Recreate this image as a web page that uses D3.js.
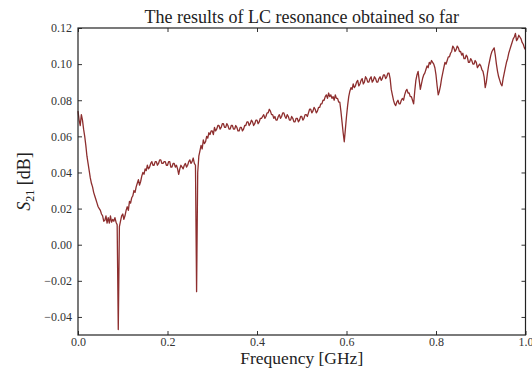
<!DOCTYPE html>
<html>
<head>
<meta charset="utf-8">
<script src="https://cdn.jsdelivr.net/npm/d3@7.9.0/dist/d3.min.js"></script>
<style>
  body { margin: 0; background: #fff; }
  svg { display: block; font-family: "Liberation Serif", "DejaVu Serif", serif; }
</style>
</head>
<body>
<svg id="chart" width="532" height="369"></svg>
<script>
// frequency samples (GHz), step 0.0025
const freqGHz = d3.range(0, 401).map(i => +(i * 0.0025).toFixed(4));

// S21 readings (dB), 10 per row = 0.025 GHz
const s21 = [
  0.074, 0.069, 0.066, 0.072, 0.069, 0.064, 0.060, 0.055, 0.049, 0.045,
  0.041, 0.037, 0.034, 0.032, 0.029, 0.027, 0.025, 0.023, 0.021, 0.020,
  0.019, 0.017, 0.016, 0.013, 0.0135, 0.016, 0.012, 0.015, 0.012, 0.016,
  0.0125, 0.014, 0.013, 0.015, 0.0125, 0.011, -0.047, 0.010, 0.013, 0.016,
  0.017, 0.014, 0.016, 0.019, 0.021, 0.019, 0.024, 0.023, 0.026, 0.027,
  0.030, 0.029, 0.032, 0.034, 0.036, 0.033, 0.035, 0.038, 0.040, 0.039,
  0.042, 0.041, 0.044, 0.042, 0.043, 0.045, 0.046, 0.044, 0.044, 0.046,
  0.046, 0.044, 0.045, 0.047, 0.047, 0.045, 0.045, 0.046, 0.046, 0.044,
  0.044, 0.046, 0.046, 0.043, 0.043, 0.045, 0.045, 0.043, 0.044, 0.042,
  0.039, 0.042, 0.044, 0.043, 0.042, 0.044, 0.045, 0.043, 0.044, 0.046,
  0.047, 0.045, 0.046, 0.048, 0.045, 0.044, -0.026, 0.040, 0.049, 0.052,
  0.055, 0.053, 0.058, 0.056, 0.057, 0.060, 0.059, 0.062, 0.061, 0.063,
  0.063, 0.061, 0.065, 0.063, 0.064, 0.066, 0.066, 0.064, 0.065, 0.067,
  0.067, 0.065, 0.065, 0.067, 0.066, 0.064, 0.064, 0.066, 0.066, 0.064,
  0.064, 0.066, 0.065, 0.063, 0.063, 0.065, 0.065, 0.063, 0.064, 0.066,
  0.066, 0.068, 0.068, 0.066, 0.067, 0.069, 0.068, 0.066, 0.067, 0.069,
  0.069, 0.067, 0.068, 0.070, 0.070, 0.071, 0.072, 0.070, 0.071, 0.073,
  0.073, 0.075, 0.074, 0.072, 0.072, 0.070, 0.071, 0.069, 0.069, 0.071,
  0.072, 0.070, 0.071, 0.073, 0.073, 0.071, 0.070, 0.072, 0.071, 0.069,
  0.069, 0.071, 0.070, 0.068, 0.068, 0.070, 0.070, 0.068, 0.069, 0.071,
  0.071, 0.069, 0.070, 0.072, 0.072, 0.071, 0.073, 0.075, 0.075, 0.073,
  0.074, 0.076, 0.075, 0.073, 0.074, 0.076, 0.076, 0.078, 0.078, 0.080,
  0.080, 0.082, 0.083, 0.081, 0.084, 0.082, 0.083, 0.081, 0.082, 0.080,
  0.083, 0.081, 0.081, 0.079, 0.079, 0.074, 0.068, 0.062, 0.057, 0.064,
  0.071, 0.077, 0.082, 0.085, 0.087, 0.086, 0.089, 0.087, 0.088, 0.090,
  0.091, 0.088, 0.089, 0.091, 0.092, 0.089, 0.090, 0.093, 0.092, 0.090,
  0.090, 0.092, 0.093, 0.090, 0.091, 0.093, 0.092, 0.090, 0.090, 0.092,
  0.093, 0.091, 0.092, 0.094, 0.094, 0.092, 0.093, 0.095, 0.095, 0.092,
  0.086, 0.083, 0.080, 0.078, 0.077, 0.079, 0.080, 0.078, 0.078, 0.080,
  0.081, 0.080, 0.083, 0.085, 0.086, 0.084, 0.084, 0.082, 0.082, 0.080,
  0.078, 0.085, 0.091, 0.094, 0.096, 0.091, 0.086, 0.089, 0.092, 0.094,
  0.095, 0.097, 0.099, 0.098, 0.101, 0.100, 0.102, 0.101, 0.100, 0.098,
  0.094, 0.088, 0.083, 0.085, 0.088, 0.092, 0.095, 0.098, 0.101, 0.100,
  0.102, 0.104, 0.104, 0.106, 0.107, 0.110, 0.109, 0.107, 0.108, 0.110,
  0.109, 0.107, 0.107, 0.105, 0.106, 0.103, 0.103, 0.105, 0.104, 0.101,
  0.101, 0.103, 0.102, 0.100, 0.100, 0.102, 0.101, 0.098, 0.099, 0.100,
  0.099, 0.097, 0.096, 0.093, 0.087, 0.090, 0.095, 0.099, 0.102, 0.105,
  0.107, 0.108, 0.109, 0.105, 0.100, 0.096, 0.093, 0.091, 0.089, 0.088,
  0.092, 0.095, 0.098, 0.101, 0.103, 0.106, 0.108, 0.110, 0.112, 0.114,
  0.115, 0.117, 0.113, 0.114, 0.116, 0.115, 0.114, 0.112, 0.111, 0.109,
  0.108
];

const xTicks = [0, 0.2, 0.4, 0.6, 0.8, 1.0];
const yTicks = [-0.04, -0.02, 0, 0.02, 0.04, 0.06, 0.08, 0.10, 0.12];

const margin = { top: 28, right: 6.5, bottom: 34, left: 78 };
const W = 532, H = 369;
const svg = d3.select('#chart');

const x = d3.scaleLinear().domain([0, 1]).range([margin.left, W - margin.right]);
const y = d3.scaleLinear().domain([-0.05, 0.12]).range([H - margin.bottom, margin.top]);

const fmt = d => d3.format('.2f')(d).replace('-', '\u2212');

// line
const line = d3.line()
  .x((d, i) => x(freqGHz[i]))
  .y(d => y(d));

svg.append('path')
  .datum(s21)
  .attr('fill', 'none')
  .attr('stroke', '#8d2e2e')
  .attr('stroke-width', 1.3)
  .attr('stroke-linejoin', 'round')
  .attr('d', line);

// axes, ticks pointing inward on all sides
const axisStyle = g => {
  g.select('.domain').remove();
  g.selectAll('.tick line').attr('stroke', '#333');
  g.selectAll('.tick text').attr('fill', '#333').attr('font-size', 12)
    .attr('font-family', '"Liberation Serif", serif');
};

svg.append('g')
  .attr('transform', `translate(0,${y.range()[0]})`)
  .call(d3.axisBottom(x).tickValues(xTicks).tickFormat(d3.format('.1f')).tickSizeInner(-4).tickPadding(2))
  .call(axisStyle);

svg.append('g')
  .attr('transform', `translate(0,${y.range()[1]})`)
  .call(d3.axisTop(x).tickValues(xTicks).tickFormat('').tickSizeInner(-4))
  .call(axisStyle);

svg.append('g')
  .attr('transform', `translate(${x.range()[0]},0)`)
  .call(d3.axisLeft(y).tickValues(yTicks).tickFormat(fmt).tickSizeInner(-4).tickPadding(6))
  .call(axisStyle);

svg.append('g')
  .attr('transform', `translate(${x.range()[1]},0)`)
  .call(d3.axisRight(y).tickValues(yTicks).tickFormat('').tickSizeInner(-4))
  .call(axisStyle);

// frame
svg.append('rect')
  .attr('x', x.range()[0]).attr('y', y.range()[1])
  .attr('width', x.range()[1] - x.range()[0])
  .attr('height', y.range()[0] - y.range()[1])
  .attr('fill', 'none').attr('stroke', '#222').attr('stroke-width', 1.2);

// title
svg.append('text')
  .attr('x', (x.range()[0] + x.range()[1]) / 2).attr('y', 23)
  .attr('text-anchor', 'middle').attr('font-size', 18).attr('fill', '#222')
  .text('The results of LC resonance obtained so far');

// x label
svg.append('text')
  .attr('x', (x.range()[0] + x.range()[1]) / 2).attr('y', 364)
  .attr('text-anchor', 'middle').attr('font-size', 17.5).attr('fill', '#222')
  .text('Frequency  [GHz]');

// y label
const yl = svg.append('text')
  .attr('transform', `translate(30,${(y.range()[0] + y.range()[1]) / 2}) rotate(-90)`)
  .attr('text-anchor', 'middle').attr('font-size', 18).attr('fill', '#222');
yl.append('tspan').attr('font-style', 'italic').text('S');
yl.append('tspan').attr('font-size', 12).attr('dy', 4).text('21');
yl.append('tspan').attr('dy', -4).text(' [dB]');
</script>
</body>
</html>
